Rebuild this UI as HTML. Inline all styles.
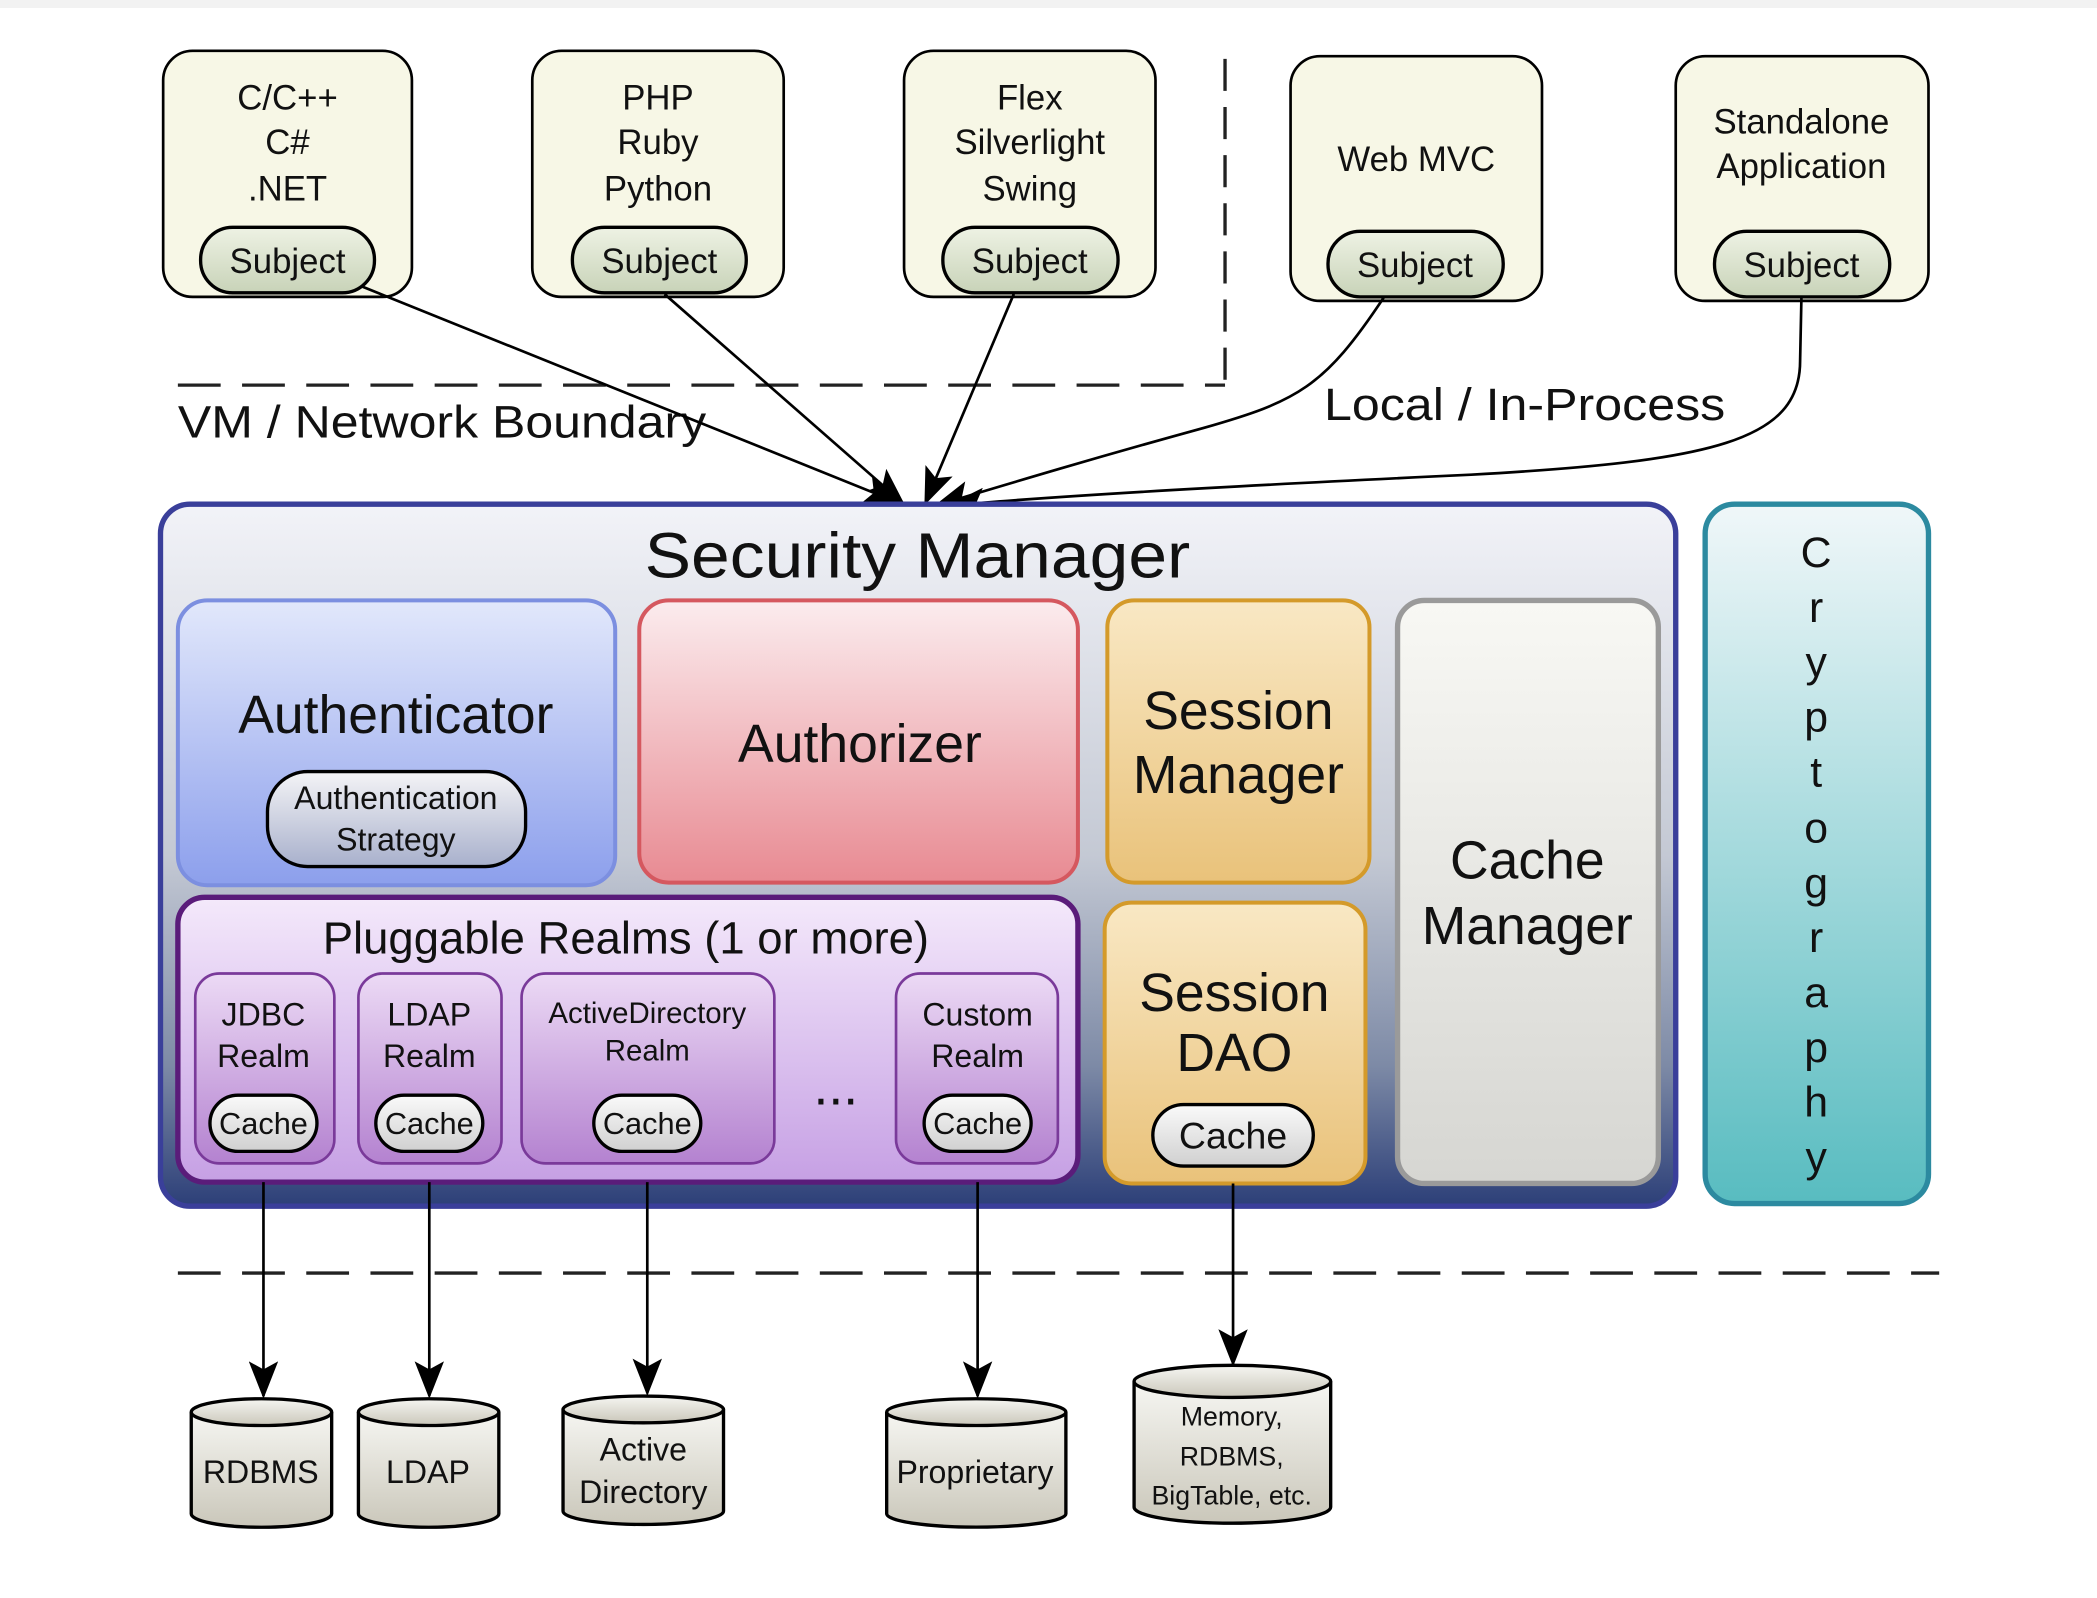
<!DOCTYPE html>
<html><head><meta charset="utf-8"><style>
html,body{margin:0;padding:0;background:#fff;}
svg{display:block;}
text{font-family:"Liberation Sans",sans-serif;fill:#111;}
</style></head><body>
<svg width="2097" height="1598" viewBox="0 0 1568 1195" preserveAspectRatio="none" xmlns="http://www.w3.org/2000/svg">
<defs>
<linearGradient id="sm" x1="0" y1="0" x2="0" y2="1"><stop offset="0" stop-color="#f2f3f8"/><stop offset="0.5" stop-color="#c4c9d4"/><stop offset="0.8" stop-color="#7d8aa6"/><stop offset="1" stop-color="#2c3f78"/></linearGradient>
<linearGradient id="au" x1="0" y1="0" x2="0" y2="1"><stop offset="0" stop-color="#e2e8fb"/><stop offset="1" stop-color="#8c9fec"/></linearGradient>
<linearGradient id="az" x1="0" y1="0" x2="0" y2="1"><stop offset="0" stop-color="#fbecee"/><stop offset="1" stop-color="#e88a92"/></linearGradient>
<linearGradient id="or" x1="0" y1="0" x2="0" y2="1"><stop offset="0" stop-color="#f9e8c4"/><stop offset="1" stop-color="#e9c27a"/></linearGradient>
<linearGradient id="cm" x1="0" y1="0" x2="0" y2="1"><stop offset="0" stop-color="#f8f8f4"/><stop offset="1" stop-color="#d6d6d2"/></linearGradient>
<linearGradient id="pr" x1="0" y1="0" x2="0" y2="1"><stop offset="0" stop-color="#f4e9fb"/><stop offset="1" stop-color="#c6a0e4"/></linearGradient>
<linearGradient id="rl" x1="0" y1="0" x2="0" y2="1"><stop offset="0" stop-color="#ecdaf5"/><stop offset="1" stop-color="#b482d0"/></linearGradient>
<linearGradient id="cr" x1="0" y1="0" x2="0" y2="1"><stop offset="0" stop-color="#f0f7f9"/><stop offset="1" stop-color="#58bcc0"/></linearGradient>
<linearGradient id="sub" x1="0" y1="0" x2="0" y2="1"><stop offset="0" stop-color="#eef2e4"/><stop offset="1" stop-color="#c8d3b8"/></linearGradient>
<linearGradient id="pill" x1="0" y1="0" x2="0" y2="1"><stop offset="0" stop-color="#fafafa"/><stop offset="1" stop-color="#d0d0d0"/></linearGradient>
<linearGradient id="as" x1="0" y1="0" x2="0" y2="1"><stop offset="0" stop-color="#f4f4f6"/><stop offset="1" stop-color="#a8b0cc"/></linearGradient>
<linearGradient id="cyl" x1="0" y1="0" x2="0" y2="1"><stop offset="0" stop-color="#f6f6f2"/><stop offset="1" stop-color="#cac7ba"/></linearGradient>
<marker id="ahb" markerWidth="28" markerHeight="22" refX="26" refY="11" orient="auto" markerUnits="userSpaceOnUse"><path d="M0,0 L28,11 L0,22 L6,11 z" fill="#000"/></marker>
</defs>
<rect x="0" y="0" width="1568" height="6" fill="#f2f2f2"/>

<g stroke="#000" stroke-width="2" fill="#f7f7e6">
<rect x="122" y="38" width="186" height="184" rx="22"/>
<rect x="398" y="38" width="188" height="184" rx="22"/>
<rect x="676" y="38" width="188" height="184" rx="22"/>
<rect x="965" y="42" width="188" height="183" rx="22"/>
<rect x="1253" y="42" width="189" height="183" rx="22"/>
</g>
<g stroke="#000" stroke-width="2.5" fill="url(#sub)">
<rect x="150" y="170" width="130" height="49" rx="24"/>
<rect x="428" y="170" width="130" height="49" rx="24"/>
<rect x="705" y="170" width="131" height="49" rx="24"/>
<rect x="993" y="173" width="131" height="49" rx="24"/>
<rect x="1282" y="173" width="131" height="49" rx="24"/>
</g>
<g font-size="26" text-anchor="middle">
<text x="215" y="82">C/C++</text><text x="215" y="115">C#</text><text x="215" y="150">.NET</text>
<text x="492" y="82">PHP</text><text x="492" y="115">Ruby</text><text x="492" y="150">Python</text>
<text x="770" y="82">Flex</text><text x="770" y="115">Silverlight</text><text x="770" y="150">Swing</text>
<text x="1059" y="128">Web MVC</text>
<text x="1347" y="100">Standalone</text><text x="1347" y="133">Application</text>
<text x="215" y="204">Subject</text><text x="493" y="204">Subject</text><text x="770" y="204">Subject</text>
<text x="1058" y="207">Subject</text><text x="1347" y="207">Subject</text>
</g>

<g stroke="#222" stroke-width="2.5" stroke-dasharray="32,16" fill="none">
<line x1="916" y1="44" x2="916" y2="288" stroke-dasharray="24,12"/>
<line x1="133" y1="288" x2="916" y2="288"/>
<line x1="133" y1="952" x2="1450" y2="952"/>
</g>
<text x="133" y="327" font-size="34" textLength="395" lengthAdjust="spacingAndGlyphs">VM / Network Boundary</text>
<text x="990" y="314" font-size="34" textLength="300" lengthAdjust="spacingAndGlyphs">Local / In-Process</text>

<g stroke="#000" stroke-width="2" fill="none" marker-end="url(#ahb)">
<path d="M270,214 L672,376"/>
<path d="M497,220 L675,376"/>
<path d="M758,220 L692,376"/>
<path d="M1035,222 C990,290 970,300 900,320 C820,342 760,360 700,378"/>
<path d="M1347,222 L1346,270 C1346,330 1280,345 1100,355 C950,362 800,370 710,378"/>
</g>

<rect x="120" y="377" width="1133" height="525" rx="22" fill="url(#sm)" stroke="#3a3f9a" stroke-width="4"/>
<text x="482" y="432" font-size="48" textLength="408" lengthAdjust="spacingAndGlyphs">Security Manager</text>

<rect x="133" y="449" width="327" height="213" rx="22" fill="url(#au)" stroke="#7c8fe0" stroke-width="3"/>
<text x="296" y="548" font-size="40" text-anchor="middle">Authenticator</text>
<rect x="200" y="577" width="193" height="71" rx="30" fill="url(#as)" stroke="#000" stroke-width="2.5"/>
<text x="296" y="605" font-size="24" text-anchor="middle">Authentication</text>
<text x="296" y="636" font-size="24" text-anchor="middle">Strategy</text>

<rect x="478" y="449" width="328" height="211" rx="22" fill="url(#az)" stroke="#d5585f" stroke-width="3"/>
<text x="643" y="570" font-size="40" text-anchor="middle">Authorizer</text>

<rect x="828" y="449" width="196" height="211" rx="20" fill="url(#or)" stroke="#d49a2a" stroke-width="3"/>
<text x="926" y="545" font-size="40" text-anchor="middle">Session</text>
<text x="926" y="593" font-size="40" text-anchor="middle">Manager</text>

<rect x="1045" y="449" width="195" height="436" rx="20" fill="url(#cm)" stroke="#9a9a9a" stroke-width="4"/>
<text x="1142" y="657" font-size="40" text-anchor="middle">Cache</text>
<text x="1142" y="706" font-size="40" text-anchor="middle">Manager</text>

<rect x="826" y="675" width="195" height="210" rx="20" fill="url(#or)" stroke="#d49a2a" stroke-width="3"/>
<text x="923" y="756" font-size="40" text-anchor="middle">Session</text>
<text x="923" y="801" font-size="40" text-anchor="middle">DAO</text>
<rect x="862" y="826" width="120" height="46" rx="23" fill="url(#pill)" stroke="#000" stroke-width="2.5"/>
<text x="922" y="859" font-size="28" text-anchor="middle">Cache</text>

<rect x="133" y="671" width="673" height="213" rx="20" fill="url(#pr)" stroke="#5a1c7a" stroke-width="4"/>
<text x="468" y="713" font-size="34" text-anchor="middle">Pluggable Realms (1 or more)</text>
<g fill="url(#rl)" stroke="#7a3a9a" stroke-width="2">
<rect x="146" y="728" width="104" height="142" rx="18"/>
<rect x="268" y="728" width="107" height="142" rx="18"/>
<rect x="390" y="728" width="189" height="142" rx="18"/>
<rect x="670" y="728" width="121" height="142" rx="18"/>
</g>
<g font-size="24" text-anchor="middle">
<text x="197" y="767">JDBC</text><text x="197" y="798">Realm</text>
<text x="321" y="767">LDAP</text><text x="321" y="798">Realm</text>
<text x="484" y="765" font-size="22">ActiveDirectory</text><text x="484" y="793" font-size="22">Realm</text>
<text x="731" y="767">Custom</text><text x="731" y="798">Realm</text>
</g>
<g fill="url(#pill)" stroke="#000" stroke-width="2.5">
<rect x="157" y="819" width="80" height="42" rx="21"/>
<rect x="281" y="819" width="80" height="42" rx="21"/>
<rect x="444" y="819" width="80" height="42" rx="21"/>
<rect x="691" y="819" width="80" height="42" rx="21"/>
</g>
<g font-size="23" text-anchor="middle">
<text x="197" y="848">Cache</text><text x="321" y="848">Cache</text><text x="484" y="848">Cache</text><text x="731" y="848">Cache</text>
</g>
<text x="625" y="826" font-size="40" text-anchor="middle">...</text>

<rect x="1275" y="377" width="167" height="523" rx="22" fill="url(#cr)" stroke="#2c8aa0" stroke-width="4"/>
<g font-size="32" text-anchor="middle">
<text x="1358" y="424">C</text><text x="1358" y="465">r</text><text x="1358" y="506">y</text><text x="1358" y="547">p</text>
<text x="1358" y="588">t</text><text x="1358" y="630">o</text><text x="1358" y="671">g</text><text x="1358" y="712">r</text>
<text x="1358" y="753">a</text><text x="1358" y="794">p</text><text x="1358" y="835">h</text><text x="1358" y="876">y</text>
</g>

<g stroke="#000" stroke-width="2" marker-end="url(#ahb)">
<line x1="197" y1="884" x2="197" y2="1044"/>
<line x1="321" y1="884" x2="321" y2="1044"/>
<line x1="484" y1="884" x2="484" y2="1042"/>
<line x1="731" y1="884" x2="731" y2="1044"/>
<line x1="922" y1="885" x2="922" y2="1020"/>
</g>

<g stroke="#000" stroke-width="2.5" fill="url(#cyl)">
<path d="M143,1056 L143,1132 A52,10 0 0 0 248,1132 L248,1056"/><ellipse cx="195.5" cy="1056" rx="52.5" ry="10"/>
<path d="M268,1056 L268,1132 A52,10 0 0 0 373,1132 L373,1056"/><ellipse cx="320.5" cy="1056" rx="52.5" ry="10"/>
<path d="M421,1054 L421,1130 A60,10 0 0 0 541,1130 L541,1054"/><ellipse cx="481" cy="1054" rx="60" ry="10"/>
<path d="M663,1056 L663,1132 A67,10 0 0 0 797,1132 L797,1056"/><ellipse cx="730" cy="1056" rx="67" ry="10"/>
<path d="M848,1033 L848,1127 A73,12 0 0 0 995,1127 L995,1033"/><ellipse cx="921.5" cy="1033" rx="73.5" ry="12"/>
</g>
<g font-size="24" text-anchor="middle">
<text x="195" y="1109">RDBMS</text>
<text x="320" y="1109">LDAP</text>
<text x="481" y="1092">Active</text><text x="481" y="1124">Directory</text>
<text x="729" y="1109">Proprietary</text>
<text x="921" y="1066" font-size="20">Memory,</text><text x="921" y="1096" font-size="20">RDBMS,</text><text x="921" y="1125" font-size="20">BigTable, etc.</text>
</g>
</svg>
</body></html>
